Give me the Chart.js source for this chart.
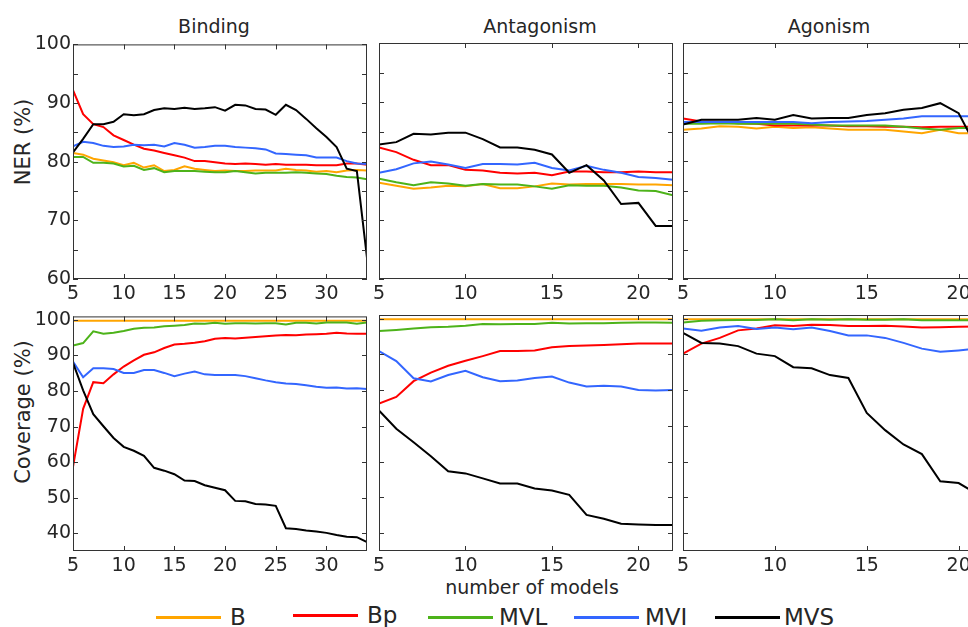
<!DOCTYPE html>
<html>
<head>
<meta charset="utf-8">
<script src="https://cdn.jsdelivr.net/npm/chart.js@4.4.1/dist/chart.umd.min.js"></script>
<style>
  html, body { margin: 0; padding: 0; background: #fff; width: 968px; height: 627px; overflow: hidden; }
  #wrap { position: relative; width: 1000px; height: 627px; font-family: "DejaVu Sans", sans-serif; color: #262626; }
  #wrap canvas { position: absolute; }
  .txt { position: absolute; white-space: nowrap; font-size: 19px; line-height: 22px; }
  .ttl { transform: translateX(-50%); }
  .ylab { font-size: 21px; line-height: 25px; transform: translate(-50%, -50%) rotate(-90deg); }
  .leg { position: absolute; font-size: 23px; line-height: 27px; white-space: nowrap; }
  .sw { position: absolute; height: 3px; }
</style>
</head>
<body>
<div id="wrap">
  <div class="txt ttl" style="left:214px;top:15px">Binding</div>
  <div class="txt ttl" style="left:540px;top:15px">Antagonism</div>
  <div class="txt ttl" style="left:829px;top:15px">Agonism</div>
  <div class="txt ylab" style="left:23px;top:142px">NER (%)</div>
  <div class="txt ylab" style="left:23px;top:412px">Coverage (%)</div>
  <div class="txt ttl" style="left:532px;top:576px">number of models</div>
  <div id="legend"></div>
</div>
<script>
// number of models on the x axis of each column
const modelsBinding = [5,6,7,8,9,10,11,12,13,14,15,16,17,18,19,20,21,22,23,24,25,26,27,28,29,30,31,32,33,34];
const modelsAntagonism = [5,6,7,8,9,10,11,12,13,14,15,16,17,18,19,20,21,22];
const modelsAgonism = [5,6,7,8,9,10,11,12,13,14,15,16,17,18,19,20,21];

const seriesNames = ['B', 'Bp', 'MVL', 'MVI', 'MVS'];
const seriesColors = ['#FFA500', '#FF0000', '#4DB31A', '#3366FF', '#000000'];

// NER (%) - top row
const nerBindingB   = [81.5,81.2,80.5,80.2,79.9,79.4,79.8,79.0,79.4,78.4,78.6,79.2,78.8,78.6,78.4,78.5,78.4,78.4,78.5,78.5,78.5,78.8,78.6,78.5,78.3,78.4,78.2,78.5,78.6,78.5];
const nerBindingBp  = [92.2,88.1,86.4,85.9,84.5,83.7,82.9,82.2,81.9,81.5,81.1,80.7,80.1,80.1,79.9,79.7,79.6,79.7,79.6,79.5,79.6,79.5,79.5,79.5,79.4,79.4,79.4,79.7,79.7,79.5];
const nerBindingMVL = [80.8,80.8,79.8,79.8,79.7,79.2,79.3,78.6,78.9,78.2,78.4,78.4,78.4,78.3,78.2,78.2,78.4,78.2,78.0,78.1,78.1,78.1,78.2,78.1,78.0,77.9,77.6,77.4,77.3,77.0];
const nerBindingMVI = [82.6,83.4,83.2,82.7,82.5,82.6,82.9,82.8,82.9,82.6,83.2,82.9,82.4,82.5,82.7,82.7,82.5,82.4,82.3,82.1,81.4,81.3,81.2,81.1,80.7,80.7,80.7,80.1,79.7,79.6];
const nerBindingMVS = [81.6,83.9,86.4,86.4,86.8,88.1,87.9,88.1,88.8,89.1,89.0,89.2,89.0,89.1,89.3,88.7,89.7,89.6,89.0,88.9,88.0,89.7,88.8,87.3,85.7,84.2,82.5,78.8,78.4,63.6];

const nerAntagB   = [76.3,75.8,75.3,75.5,75.8,75.7,76.1,75.4,75.4,75.7,76.2,76.0,76.1,76.1,76.1,76.0,76.0,75.9];
const nerAntagBp  = [82.3,81.5,80.2,79.3,79.3,78.5,78.4,78.0,77.9,78.0,77.6,78.2,78.2,78.1,78.1,78.2,78.1,78.1];
const nerAntagMVL = [77.0,76.4,75.9,76.4,76.2,75.8,76.1,76.0,76.0,75.7,75.3,75.9,75.8,75.8,75.5,75.0,74.9,74.2];
const nerAntagMVI = [78.0,78.6,79.6,79.9,79.4,78.8,79.5,79.5,79.4,79.7,78.8,78.4,79.2,78.5,78.0,77.3,77.1,76.8];
const nerAntagMVS = [82.8,83.2,84.6,84.5,84.8,84.8,83.7,82.3,82.3,81.9,81.1,78.0,79.3,76.7,72.7,72.9,69.0,69.0];

const nerAgonB   = [85.3,85.5,85.9,85.8,85.5,85.8,85.6,85.7,85.5,85.3,85.3,85.3,85.0,84.7,85.3,84.7,84.7];
const nerAgonBp  = [87.2,86.7,86.6,86.4,86.3,86.0,86.0,86.0,86.0,85.9,85.9,85.8,85.8,85.7,85.8,85.8,85.8];
const nerAgonMVL = [86.3,86.3,86.4,86.3,86.3,86.3,86.3,86.2,86.0,86.0,86.0,86.0,85.8,85.5,85.3,85.6,85.6];
const nerAgonMVI = [86.6,86.6,86.6,86.6,86.6,86.6,86.6,86.4,86.6,86.7,86.8,87.0,87.2,87.6,87.6,87.6,87.6];
const nerAgonMVS = [86.2,87.0,87.0,87.0,87.3,87.0,87.8,87.2,87.3,87.3,87.8,88.1,88.7,89.0,89.8,88.1,82.2];

// Coverage (%) - bottom row
const covBindingB   = [99.8,99.8,99.8,99.8,99.8,99.8,99.8,99.8,99.8,99.8,99.8,99.8,99.8,99.8,99.8,99.8,99.8,99.8,99.8,99.8,99.8,99.8,99.8,99.8,99.8,99.8,99.8,99.8,99.8,99.8];
const covBindingBp  = [58.7,75.0,82.5,82.2,84.7,86.9,88.6,90.2,90.9,92.1,93.1,93.3,93.6,94.0,94.7,94.9,94.8,95.0,95.2,95.4,95.6,95.8,95.7,95.9,96.0,96.1,96.4,96.2,96.1,96.1];
const covBindingMVL = [92.8,93.5,96.8,96.1,96.4,96.9,97.5,97.8,97.9,98.2,98.4,98.6,99.0,98.9,99.2,98.9,99.1,99.1,99.0,99.1,99.1,98.7,99.2,99.2,99.0,99.3,99.3,99.3,98.9,99.3];
const covBindingMVI = [88.3,83.9,86.4,86.4,86.2,85.1,85.1,85.9,85.9,85.1,84.2,84.9,85.5,84.7,84.5,84.5,84.5,84.2,83.6,83.0,82.5,82.1,82.0,81.6,81.2,80.9,81.0,80.7,80.8,80.6];
const covBindingMVS = [87.9,80.2,73.5,70.1,66.8,64.3,63.2,61.8,58.4,57.6,56.6,54.8,54.7,53.5,52.8,52.1,49.1,49.0,48.2,48.1,47.7,41.4,41.2,40.8,40.5,40.1,39.5,39.0,38.9,37.5];

const covAntagB   = [99.8,99.8,99.8,99.8,99.8,99.8,99.8,99.8,99.8,99.8,99.8,99.8,99.8,99.8,99.8,99.8,99.8,99.8];
const covAntagBp  = [76.2,78.1,82.5,84.9,86.8,88.2,89.5,90.9,90.9,91.1,92.0,92.3,92.5,92.6,92.8,93.0,93.0,93.0];
const covAntagMVL = [96.5,96.8,97.2,97.6,97.7,98.0,98.5,98.4,98.5,98.5,98.8,98.6,98.7,98.7,98.8,98.9,98.9,98.8];
const covAntagMVI = [90.9,88.1,83.3,82.4,84.2,85.4,83.6,82.5,82.7,83.4,83.8,82.1,81.0,81.2,81.0,80.0,79.9,80.0];
const covAntagMVS = [74.3,69.2,65.4,61.5,57.3,56.7,55.3,53.9,53.9,52.5,51.9,50.7,45.1,44.0,42.6,42.4,42.3,42.3];

const covAgonB   = [99.8,99.8,99.8,99.8,99.8,99.8,99.8,99.8,99.8,99.8,99.8,99.8,99.8,99.8,99.8,99.8,99.8];
const covAgonBp  = [90.2,93.0,94.6,96.7,97.2,98.1,97.9,98.3,98.2,97.9,97.9,98.0,97.8,97.5,97.6,97.7,97.8];
const covAgonMVL = [98.9,99.4,99.5,99.6,99.6,99.8,99.5,99.8,99.7,99.8,99.7,99.7,99.8,99.5,99.5,99.5,99.5];
const covAgonMVI = [97.2,96.6,97.5,97.9,97.1,97.5,97.0,97.5,96.5,95.3,95.3,94.6,93.2,91.6,90.7,91.1,91.6];
const covAgonMVS = [96.0,93.2,93.0,92.3,90.2,89.5,86.4,86.1,84.2,83.4,73.6,68.8,64.8,62.1,54.5,54.0,51.0];

// axis limits
const xMin = 5;
const xMaxByCol = [34, 22, 21];
const nerRange = [60, 100];
const covRange = [35, 101];

// layout of the plot boxes (pixels)
const colLeft = [73, 379, 683];
const rowTop = [43, 315];
const plotW = 294, plotH = 236;

Chart.defaults.font.family = '"DejaVu Sans", sans-serif';
Chart.defaults.font.size = 19;
Chart.defaults.color = '#262626';

// inward tick marks on all four sides + box, like matlab
const boxTicks = {
  id: 'boxTicks',
  afterDraw(chart) {
    const ctx = chart.ctx, a = chart.chartArea;
    const x = chart.scales.x, y = chart.scales.y;
    ctx.save();
    ctx.strokeStyle = '#333';
    ctx.lineWidth = 1;
    ctx.beginPath();
    x.ticks.forEach(t => {
      const px = Math.round(x.getPixelForValue(t.value)) + 0.5;
      ctx.moveTo(px, a.bottom); ctx.lineTo(px, a.bottom - 5);
      ctx.moveTo(px, a.top); ctx.lineTo(px, a.top + 5);
    });
    y.ticks.forEach(t => {
      const py = Math.round(y.getPixelForValue(t.value)) + 0.5;
      ctx.moveTo(a.left, py); ctx.lineTo(a.left + 5, py);
      ctx.moveTo(a.right, py); ctx.lineTo(a.right - 5, py);
    });
    ctx.stroke();
    ctx.strokeRect(a.left + 0.5, a.top + 0.5, a.right - a.left - 1, a.bottom - a.top - 1);
    ctx.restore();
  }
};

function makePanel(col, row, models, series) {
  const padL = col === 0 ? 0 : 15;
  const yw = col === 0 ? 73 : 0;
  const padT = 12, padR = 12, xh = 30;
  const canvas = document.createElement('canvas');
  canvas.width = padL + yw + plotW + padR;
  canvas.height = padT + plotH + xh;
  canvas.style.left = (colLeft[col] - yw - padL) + 'px';
  canvas.style.top = (rowTop[row] - padT) + 'px';
  document.getElementById('wrap').appendChild(canvas);

  const range = row === 0 ? nerRange : covRange;
  const datasets = series.map((vals, i) => ({
    label: seriesNames[i],
    data: models.map((n, k) => ({ x: n, y: vals[k] })),
    borderColor: seriesColors[i],
    borderWidth: 2,
    pointRadius: 0,
    tension: 0,
    fill: false,
    order: seriesNames.length - i
  }));

  new Chart(canvas, {
    type: 'line',
    data: { datasets },
    options: {
      responsive: false,
      animation: false,
      events: [],
      layout: { padding: { left: padL, top: padT, right: padR, bottom: 0 } },
      plugins: { legend: { display: false }, tooltip: { enabled: false } },
      scales: {
        x: {
          type: 'linear',
          min: xMin,
          max: xMaxByCol[col],
          grid: { display: false, drawTicks: false },
          border: { display: false },
          ticks: { stepSize: 5, includeBounds: false, autoSkip: false, maxRotation: 0, padding: 4 },
          afterFit: s => { s.height = xh; }
        },
        y: {
          min: range[0],
          max: range[1],
          grid: { display: false, drawTicks: false },
          border: { display: false },
          ticks: {
            display: col === 0,
            stepSize: row === 0 ? 5 : 10,
            includeBounds: false,
            autoSkip: false,
            padding: 2,
            callback: v => (v % 10 === 0 ? v : '')
          },
          afterFit: s => { s.width = yw; }
        }
      }
    },
    plugins: [boxTicks]
  });
}

makePanel(0, 0, modelsBinding, [nerBindingB, nerBindingBp, nerBindingMVL, nerBindingMVI, nerBindingMVS]);
makePanel(1, 0, modelsAntagonism, [nerAntagB, nerAntagBp, nerAntagMVL, nerAntagMVI, nerAntagMVS]);
makePanel(2, 0, modelsAgonism, [nerAgonB, nerAgonBp, nerAgonMVL, nerAgonMVI, nerAgonMVS]);
makePanel(0, 1, modelsBinding, [covBindingB, covBindingBp, covBindingMVL, covBindingMVI, covBindingMVS]);
makePanel(1, 1, modelsAntagonism, [covAntagB, covAntagBp, covAntagMVL, covAntagMVI, covAntagMVS]);
makePanel(2, 1, modelsAgonism, [covAgonB, covAgonBp, covAgonMVL, covAgonMVI, covAgonMVS]);

// legend below the panels
const legSwatch = [[156, 221, 617], [293, 358, 615], [428, 493, 617], [574, 639, 617], [715, 780, 617]];
const legText = [[230, 604], [367, 602], [499, 604], [645, 604], [784, 604]];
const leg = document.getElementById('legend');
seriesNames.forEach((name, i) => {
  const sw = document.createElement('div');
  sw.className = 'sw';
  sw.style.left = legSwatch[i][0] + 'px';
  sw.style.width = (legSwatch[i][1] - legSwatch[i][0]) + 'px';
  sw.style.top = (legSwatch[i][2] - 1) + 'px';
  sw.style.background = seriesColors[i];
  leg.appendChild(sw);
  const tx = document.createElement('div');
  tx.className = 'leg';
  tx.style.left = legText[i][0] + 'px';
  tx.style.top = legText[i][1] + 'px';
  tx.textContent = name;
  leg.appendChild(tx);
});
</script>
</body>
</html>
